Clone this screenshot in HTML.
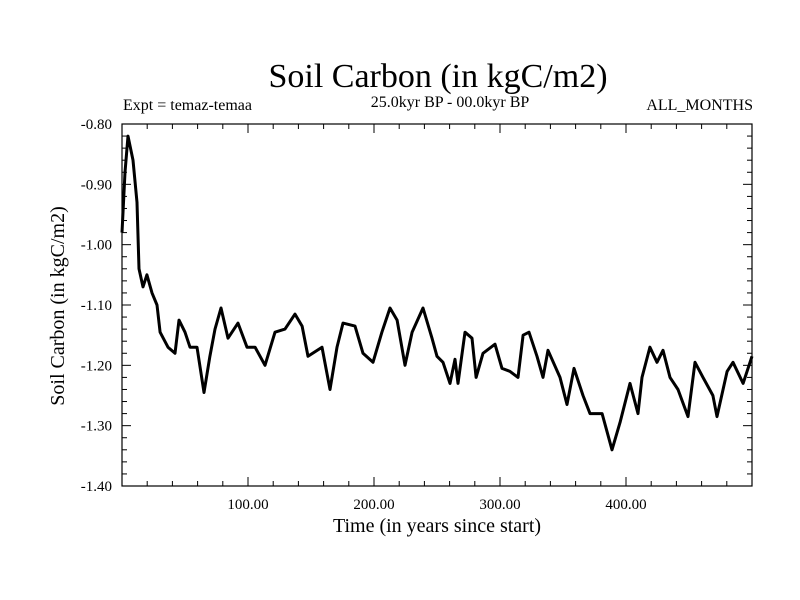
<!DOCTYPE html>
<html><head><meta charset="utf-8"><style>
body{margin:0;background:#fff}
svg{display:block;font-family:"Liberation Serif",serif}
</style></head><body>
<svg width="800" height="600">
<text x="438" y="87" font-size="34" text-anchor="middle">Soil Carbon (in kgC/m2)</text>
<text x="123" y="110" font-size="16">Expt = temaz-temaa</text>
<text x="450" y="107" font-size="16" text-anchor="middle">25.0kyr BP - 00.0kyr BP</text>
<text x="753" y="110" font-size="16" text-anchor="end">ALL_MONTHS</text>
<text x="437" y="532" font-size="20" text-anchor="middle">Time (in years since start)</text>
<text transform="translate(64,306) rotate(-90)" font-size="20" text-anchor="middle">Soil Carbon (in kgC/m2)</text>
<g id="axes"></g>
<path id="series" fill="none" stroke="#000" stroke-width="3" stroke-linejoin="round"/>
<rect x="122" y="124" width="630" height="362" fill="none" stroke="#000" stroke-width="1.2"/>
</svg>
<script>
const years=[0,2.4,4.8,8.7,11.9,13.5,16.7,19.8,23.8,27.8,30.2,36.5,42.1,45.2,50,54,59.5,65.1,69.8,73.8,78.6,84.1,92.1,99.2,105.6,113.5,121.4,129.4,137.3,142.9,147.6,158.7,165.1,170.6,175.4,184.9,191.3,199.2,206.3,212.7,218.3,224.6,230.2,238.9,246,250,254.8,260.3,264.3,266.7,272.2,277.8,281,286.5,296,301.6,307.9,314.3,318.3,323,329.4,334.1,338.1,347.6,353.2,358.7,365.9,371.4,381,388.9,395.2,403.2,409.5,412.7,419,424.6,429.4,434.9,441.3,449.2,454.8,461.1,469,472.2,480.2,484.9,492.9,500];
const values=[-0.98,-0.88,-0.82,-0.86,-0.93,-1.04,-1.07,-1.05,-1.08,-1.10,-1.145,-1.17,-1.18,-1.125,-1.145,-1.17,-1.17,-1.245,-1.185,-1.14,-1.105,-1.155,-1.13,-1.17,-1.17,-1.20,-1.145,-1.14,-1.115,-1.135,-1.185,-1.17,-1.24,-1.17,-1.13,-1.135,-1.18,-1.195,-1.145,-1.105,-1.125,-1.20,-1.145,-1.105,-1.155,-1.185,-1.195,-1.23,-1.19,-1.23,-1.145,-1.155,-1.22,-1.18,-1.165,-1.205,-1.21,-1.22,-1.15,-1.145,-1.185,-1.22,-1.175,-1.22,-1.265,-1.205,-1.25,-1.28,-1.28,-1.34,-1.295,-1.23,-1.28,-1.22,-1.17,-1.195,-1.175,-1.22,-1.24,-1.285,-1.195,-1.22,-1.25,-1.285,-1.21,-1.195,-1.23,-1.185];
const xTicks=[100,200,300,400];
const xTickLabels=["100.00","200.00","300.00","400.00"];
const yTicks=[-0.8,-0.9,-1.0,-1.1,-1.2,-1.3,-1.4];
const yTickLabels=["-0.80","-0.90","-1.00","-1.10","-1.20","-1.30","-1.40"];
const L=122,R=752,T=124,B=486,xMin=0,xMax=500,yMin=-1.4,yMax=-0.8;
const xs=v=>L+(v-xMin)/(xMax-xMin)*(R-L);
const ys=v=>B-(v-yMin)/(yMax-yMin)*(B-T);
const NS="http://www.w3.org/2000/svg";
const g=document.getElementById('axes');
function line(x1,y1,x2,y2,name){const l=document.createElementNS(NS,'line');
l.setAttribute('x1',x1);l.setAttribute('y1',y1);l.setAttribute('x2',x2);l.setAttribute('y2',y2);
l.setAttribute('stroke','#000');l.setAttribute('stroke-width','1');


g.appendChild(l);}
function text(x,y,s,anchor,name){const t=document.createElementNS(NS,'text');
t.setAttribute('x',x);t.setAttribute('y',y);t.setAttribute('font-size','15');t.setAttribute('text-anchor',anchor);t.textContent=s;


g.appendChild(t);}
for(let v=20;v<500;v+=20){const x=xs(v),maj=v%100===0,len=maj?9:5;
line(x,B,x,B-len,'x-tick');line(x,T,x,T+len,'x-tick-top');}
xTicks.forEach((v,i)=>text(xs(v),509,xTickLabels[i],'middle','x-tick-label'));
for(let k=0;k<=30;k++){const v=yMin+k*0.02,y=ys(v),maj=k%5===0,len=maj?9:5;
line(L,y,L+len,y,'y-tick');line(R,y,R-len,y,'y-tick-right');}
yTicks.forEach((v,i)=>text(112,ys(v)+5,yTickLabels[i],'end','y-tick-label'));
let d='';years.forEach((v,i)=>{d+=(i?'L':'M')+xs(v).toFixed(1)+' '+ys(values[i]).toFixed(1);});
document.getElementById('series').setAttribute('d',d);
</script>
</body></html>
